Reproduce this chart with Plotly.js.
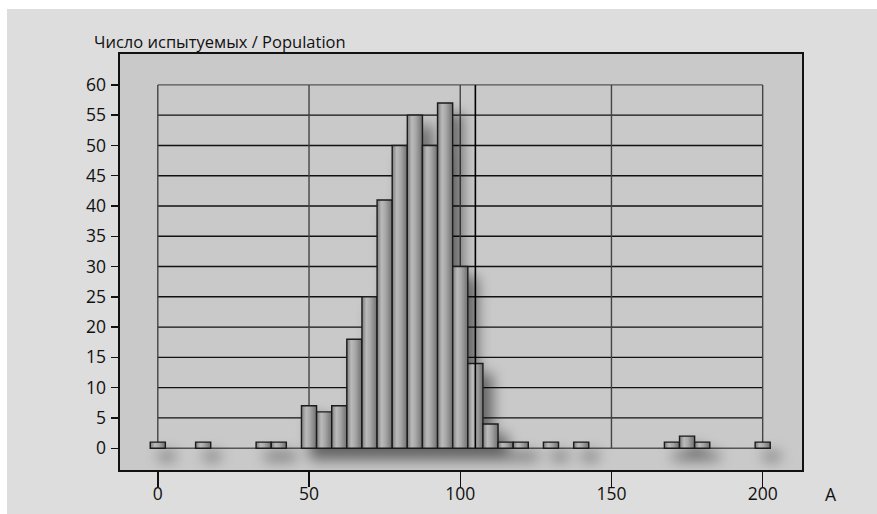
<!DOCTYPE html>
<html>
<head>
<meta charset="utf-8">
<script src="https://cdn.plot.ly/plotly-3.0.1.min.js"></script>
<style>
  html, body { margin: 0; padding: 0; background: #ffffff; }
  #chart { position: absolute; left: 7px; top: 9px; width: 870px; height: 505px; }
</style>
</head>
<body>
<div id="chart"></div>
<script>
// ---- data ----
const binCenters = [0, 15, 35, 40, 50, 55, 60, 65, 70, 75, 80, 85, 90, 95, 100, 105, 110, 115, 120, 130, 140, 170, 175, 180, 200];
const counts     = [1, 1, 1, 1, 7, 6, 7, 18, 25, 41, 50, 55, 50, 57, 30, 14, 4, 1, 1, 1, 1, 1, 2, 1, 1];
const binWidth = 5;
const meanA = 105;
const xTickVals = [0, 50, 100, 150, 200];
const xTickText = ['0', '50', '100', '150', '200'];
const yTickVals = [0, 5, 10, 15, 20, 25, 30, 35, 40, 45, 50, 55, 60];
const yTickText = yTickVals.map(String);
const yTitle = 'Число испытуемых / Population';
const xTitle = 'A';

const FONT = 'Open Sans, sans-serif';

const shapes = [];
// horizontal grid lines (inside 0..200 only)
yTickVals.forEach(v => {
  shapes.push({type: 'line', layer: 'below', xref: 'x', yref: 'y',
    x0: xTickVals[0], x1: xTickVals[xTickVals.length - 1], y0: v, y1: v,
    line: {color: (v === 0 || v === 60) ? '#555555' : '#111111', width: 1.4}});
});
// vertical grid lines
xTickVals.forEach(v => {
  shapes.push({type: 'line', layer: 'below', xref: 'x', yref: 'y',
    x0: v, x1: v, y0: yTickVals[0], y1: yTickVals[yTickVals.length - 1],
    line: {color: '#444444', width: 1.4}});
});
// mean line
shapes.push({type: 'line', layer: 'above', xref: 'x', yref: 'y',
  x0: meanA, x1: meanA, y0: yTickVals[0], y1: yTickVals[yTickVals.length - 1],
  line: {color: '#000000', width: 1.6}});

const trace = {
  type: 'bar',
  x: binCenters,
  y: counts,
  width: binWidth,
  marker: {color: '#a6a6a6', line: {color: '#1a1a1a', width: 1.4}},
  hoverinfo: 'x+y'
};

const layout = {
  width: 870, height: 505,
  margin: {l: 113, r: 75, t: 45, b: 44},
  paper_bgcolor: '#dddddd',
  plot_bgcolor: '#c9c9c9',
  showlegend: false,
  font: {family: FONT, size: 16.5, color: '#111111'},
  xaxis: {
    range: [-12.5, 213], showgrid: false, zeroline: false,
    showline: true, mirror: true, linecolor: '#111111', linewidth: 1.6,
    ticks: 'outside', ticklen: 15, tickwidth: 1.4, tickcolor: '#111111',
    tickvals: xTickVals, ticktext: xTickText,
    ticklabelstandoff: -8,
    tickfont: {family: FONT, size: 17.5, color: '#111111'}
  },
  yaxis: {
    range: [-3.6, 65.1], showgrid: false, zeroline: false,
    showline: true, mirror: true, linecolor: '#111111', linewidth: 1.6,
    ticks: 'outside', ticklen: 7, tickwidth: 1.4, tickcolor: '#111111',
    tickvals: yTickVals, ticktext: yTickText,
    ticklabelstandoff: 2,
    tickfont: {family: FONT, size: 17.5, color: '#111111'}
  },
  shapes: shapes,
  annotations: [
    {text: yTitle, xref: 'paper', yref: 'paper', x: -0.041, y: 1.029,
     xanchor: 'left', yanchor: 'middle', showarrow: false,
     font: {family: FONT, size: 16.5, color: '#111111'}},
    {text: xTitle, xref: 'paper', yref: 'paper', x: 1.0425, y: -0.057,
     xanchor: 'center', yanchor: 'middle', showarrow: false,
     font: {family: FONT, size: 17.5, color: '#111111'}}
  ]
};

Plotly.newPlot('chart', [trace], layout, {displayModeBar: false, staticPlot: true}).then(gd => {
  const NS = 'http://www.w3.org/2000/svg';
  const svg = gd.querySelector('svg.main-svg');
  let defs = svg.querySelector('defs');
  if (!defs) { defs = document.createElementNS(NS, 'defs'); svg.insertBefore(defs, svg.firstChild); }
  // cylinder-like shading
  const grad = document.createElementNS(NS, 'linearGradient');
  grad.setAttribute('id', 'barGrad');
  grad.setAttribute('x1', '0'); grad.setAttribute('x2', '1');
  grad.setAttribute('y1', '0'); grad.setAttribute('y2', '0');
  [['0%', '#7c7c7c'], ['30%', '#bababa'], ['55%', '#a8a8a8'], ['100%', '#707070']].forEach(([o, c]) => {
    const s = document.createElementNS(NS, 'stop');
    s.setAttribute('offset', o); s.setAttribute('stop-color', c);
    grad.appendChild(s);
  });
  defs.appendChild(grad);
  // soft drop shadow
  const f = document.createElementNS(NS, 'filter');
  f.setAttribute('id', 'barShadow');
  f.setAttribute('x', '-30%'); f.setAttribute('y', '-30%');
  f.setAttribute('width', '180%'); f.setAttribute('height', '180%');
  f.innerHTML = '<feGaussianBlur in="SourceAlpha" stdDeviation="7" result="b"/>' +
    '<feOffset in="b" dx="9" dy="11" result="o"/>' +
    '<feComponentTransfer in="o" result="s"><feFuncA type="linear" slope="0.5"/></feComponentTransfer>' +
    '<feMerge><feMergeNode in="s"/><feMergeNode in="SourceGraphic"/></feMerge>';
  defs.appendChild(f);
  gd.querySelectorAll('.barlayer .trace').forEach(g => g.setAttribute('filter', 'url(#barShadow)'));
  gd.querySelectorAll('.barlayer .point path').forEach(p => { p.style.fill = 'url(#barGrad)'; });
});
</script>
</body>
</html>
